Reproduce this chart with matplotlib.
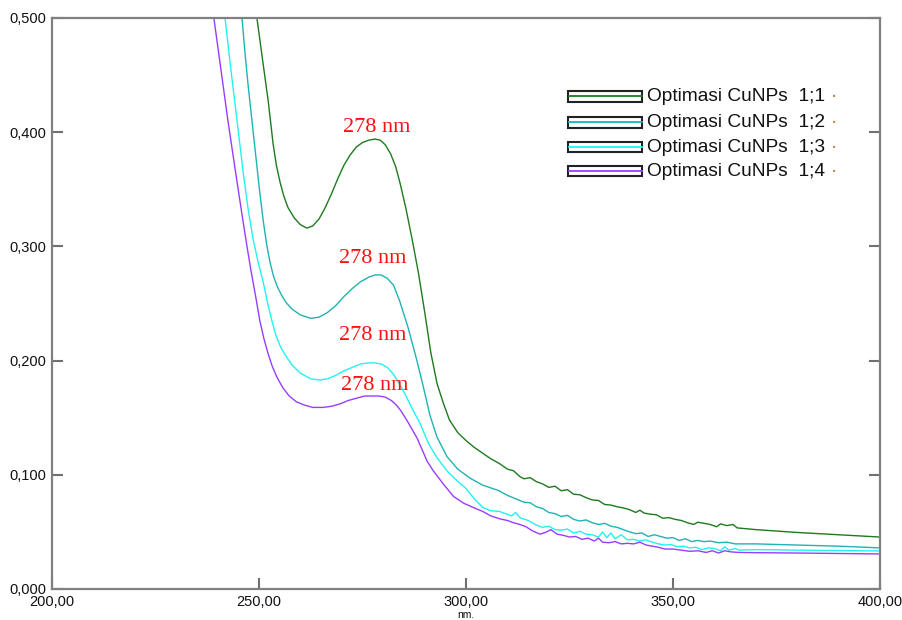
import matplotlib
matplotlib.use("Agg")
import matplotlib.pyplot as plt
from matplotlib.patches import Rectangle

# wavelength (nm) / absorbance
wl_11 = [248.8, 249.5, 250.8, 252.2, 253.4, 254.2, 255.1, 256, 257, 258.5, 260, 261.6, 263, 264.5, 266, 267.5,
         269, 270.5, 272, 273.5, 275, 276.5, 278, 279.3, 280.5, 281.8, 283, 284.1, 285.5, 287, 288.5, 290,
         291.5, 293, 294.5, 296, 298, 300, 302, 304, 306, 308, 310,
         311.5, 313, 314, 315.5, 317, 318.5, 320, 321.5, 323, 324.5, 326, 327.5, 329, 330.5, 332, 333.5, 335,
         336.5, 338, 339.5, 341, 342, 343, 344.5, 346, 347.5, 349, 350.5, 352, 353.5, 355, 356, 357.5, 359,
         360.5, 361.5, 363, 364.5, 365.5, 370, 380, 390, 400]
abs_11 = [0.53, 0.5, 0.465, 0.428, 0.39, 0.371, 0.356, 0.344, 0.334, 0.325, 0.319, 0.316, 0.318, 0.324, 0.334,
          0.346, 0.359, 0.371, 0.380, 0.387, 0.391, 0.393, 0.394, 0.393, 0.389, 0.381, 0.370, 0.355, 0.333,
          0.306, 0.277, 0.243, 0.207, 0.180, 0.163, 0.148,
          0.137, 0.130, 0.124, 0.119, 0.114, 0.110, 0.105, 0.1035, 0.0985, 0.0965, 0.0975, 0.094, 0.092, 0.089,
          0.090, 0.086, 0.087, 0.083, 0.0825, 0.080, 0.078, 0.0775, 0.074, 0.0735, 0.072, 0.071, 0.0695, 0.067,
          0.069, 0.0665, 0.0655, 0.065, 0.062, 0.0625, 0.061, 0.060, 0.058, 0.0565, 0.0585, 0.0575, 0.0565,
          0.0545, 0.057, 0.0555, 0.0565, 0.0535, 0.052, 0.0495, 0.0475, 0.0455]

wl_12 = [245.2, 245.9, 246.6, 247.4, 248.3, 249.2, 250.1, 251, 251.8, 252.6, 253.5, 254.5, 255.5, 256.5, 258,
         260, 262.5, 264.5, 266.5, 268.5, 270.5, 272.5, 274.5, 276.5, 278, 279.5, 281, 282.5, 284, 286, 288,
         289.5, 291.3, 293, 295.4, 298, 301, 304, 306, 308, 310, 312,
         314, 315.5, 317, 318.5, 320, 321.5, 323, 324.5, 326, 327.5, 329, 330.5, 332, 333.5, 335, 336.5, 338,
         339.5, 341, 342.5, 344, 345.5, 347, 348.5, 350, 351.5, 353, 354.5, 356, 357.5, 359, 361, 363, 365,
         370, 380, 390, 400]
abs_12 = [0.53, 0.5, 0.47, 0.44, 0.41, 0.38, 0.35, 0.323, 0.303, 0.287, 0.274, 0.264, 0.257, 0.251, 0.245,
          0.240, 0.237, 0.238, 0.242, 0.248, 0.256, 0.263, 0.269, 0.273, 0.275, 0.275, 0.272, 0.266, 0.252,
          0.229, 0.202, 0.180, 0.152, 0.133,
          0.116, 0.105, 0.097, 0.091, 0.0885, 0.086, 0.082, 0.079, 0.076, 0.0755, 0.072, 0.0705, 0.067, 0.066,
          0.0635, 0.0645, 0.061, 0.0595, 0.0605, 0.058, 0.0565, 0.0575, 0.055, 0.054, 0.052, 0.050, 0.0485,
          0.049, 0.046, 0.0475, 0.046, 0.0445, 0.045, 0.0425, 0.044, 0.0415, 0.0425, 0.0415, 0.042, 0.0405,
          0.041, 0.0395, 0.0395, 0.0385, 0.0375, 0.036]

wl_13 = [241.2, 241.8, 243.2, 244.7, 246.1, 247.4, 248.6, 249.8, 251, 252.1, 253.1, 254.1, 255.2, 256.5, 258,
         260, 262.5, 264.7, 266.5, 268.5, 270.5, 272.5, 274.5, 276.5, 278, 279.5, 281, 282.5, 284.8, 287,
         288.9, 291, 293, 295.5, 297.8, 300, 302, 304, 306, 308,
         309.5, 311, 312, 313, 315, 317, 318.5, 320, 321.5, 323, 324.5, 326, 327.5, 329, 330.5, 332, 333, 334,
         335, 336, 337.5, 339, 340.5, 342, 343.5, 345, 346.5, 348, 349.5, 351, 352.5, 354, 355.5, 357, 358.5,
         360, 361.5, 362.5, 363.5, 365, 366, 370, 380, 390, 400]
abs_13 = [0.52, 0.5, 0.455, 0.41, 0.367, 0.332, 0.306, 0.286, 0.269, 0.250, 0.235, 0.222, 0.212, 0.204, 0.196,
          0.189, 0.184, 0.183, 0.184, 0.187, 0.191, 0.194, 0.197, 0.198, 0.198, 0.197, 0.194, 0.188, 0.174,
          0.158, 0.145, 0.127, 0.115, 0.103, 0.095,
          0.088, 0.079, 0.0715, 0.0685, 0.068, 0.066, 0.064, 0.067, 0.0625, 0.060, 0.056, 0.054, 0.055, 0.052,
          0.0515, 0.0525, 0.049, 0.0505, 0.048, 0.0475, 0.0455, 0.050, 0.045, 0.049, 0.044, 0.0475, 0.043,
          0.0435, 0.042, 0.043, 0.041, 0.0395, 0.0385, 0.039, 0.037, 0.0375, 0.036, 0.0365, 0.0345, 0.036,
          0.0355, 0.0335, 0.037, 0.034, 0.0355, 0.034, 0.0345, 0.034, 0.0337, 0.0333]

wl_14 = [238.5, 239.1, 240.8, 242.5, 244.3, 246.1, 247.1, 248.1, 249.2, 250.2, 251.2, 252.2, 253.2, 254.4,
         255.8, 257.3, 259, 261, 263, 265.5, 267.5, 269.5, 271.5, 273.5, 275.5, 277.5, 279, 280.5, 282,
         283.2, 284.3, 286, 288.2, 290.6, 292, 294.5, 297, 299.5, 302, 304,
         306, 308.2, 310, 311.5, 313, 314.5, 316, 317.9, 319.5, 320.5, 322, 323.5, 325, 326.5, 328, 329.5, 331,
         332, 333, 334.5, 336, 337.5, 339, 340.5, 342, 343.5, 345, 346.5, 348, 350, 352, 354, 356, 358, 359.5,
         361, 362.5, 364, 366, 370, 380, 390, 400]
abs_14 = [0.52, 0.5, 0.455, 0.41, 0.366, 0.323, 0.300, 0.278, 0.256, 0.235, 0.219, 0.206, 0.195, 0.185,
          0.176, 0.169, 0.164, 0.161, 0.159, 0.159, 0.160, 0.162, 0.165, 0.167, 0.169, 0.169, 0.169, 0.168,
          0.165, 0.161, 0.156, 0.146, 0.132, 0.112, 0.104, 0.092,
          0.081, 0.075, 0.071, 0.068, 0.064, 0.0614, 0.060, 0.058, 0.0565, 0.0545, 0.051, 0.048, 0.050, 0.052,
          0.048, 0.047, 0.0455, 0.046, 0.0435, 0.0445, 0.042, 0.0445, 0.041, 0.0405, 0.0415, 0.0395, 0.040,
          0.0395, 0.041, 0.0385, 0.0375, 0.0365, 0.035, 0.035, 0.034, 0.033, 0.0335, 0.032, 0.0335, 0.0315,
          0.0335, 0.0325, 0.032, 0.0318, 0.0315, 0.0311, 0.0307]

series_names = ["Optimasi CuNPs  1;1", "Optimasi CuNPs  1;2", "Optimasi CuNPs  1;3", "Optimasi CuNPs  1;4"]
series_colors = ["#1e7a1e", "#1fb3b3", "#22f2f2", "#9a3cff"]

peak_wl = [278.5, 277.5, 277.5, 278]
label_y = [0.404, 0.289, 0.222, 0.178]

xticks = [200, 250, 300, 350, 400]
xtick_labels = ["200,00", "250,00", "300,00", "350,00", "400,00"]
yticks = [0.0, 0.1, 0.2, 0.3, 0.4, 0.5]
ytick_labels = ["0,000", "0,100", "0,200", "0,300", "0,400", "0,500"]

fig = plt.figure(figsize=(9.02, 6.2), dpi=100)
ax = fig.add_axes([52 / 902, 1 - 589 / 620, 828 / 902, 571 / 620])

all_wl = [wl_11, wl_12, wl_13, wl_14]
all_abs = [abs_11, abs_12, abs_13, abs_14]
for wl, ab, col in zip(all_wl, all_abs, series_colors):
    ax.plot(wl, ab, color=col, lw=1.0)

for x, y in zip(peak_wl, label_y):
    ax.text(x, y, "278 nm", color="#ff1010", fontsize=16, family="Liberation Serif",
            ha="center", va="center")

ax.set_xlim(200, 400)
ax.set_ylim(0, 0.5)
ax.set_xticks(xticks)
ax.set_xticklabels(xtick_labels, family="Liberation Sans", fontsize=10.5, color="#111111")
ax.set_yticks(yticks)
ax.set_yticklabels(ytick_labels, family="Liberation Sans", fontsize=10.5, color="#111111")
ax.tick_params(axis="x", direction="in", length=8, width=1.5, color="#707070", pad=4)
ax.tick_params(axis="y", direction="in", length=8, width=1.5, color="#707070", pad=4,
               right=True)
for sp in ax.spines.values():
    sp.set_color("#808080")
    sp.set_linewidth(1.6)

fig.text(466 / 902, 1 - 615 / 620, "nm.", ha="center", va="center",
         family="Liberation Sans", fontsize=7.5, color="#111111")

# boxed legend drawn by hand
rows_y = [0.863, 0.8175, 0.774, 0.732]
for name, col, ry in zip(series_names, series_colors, rows_y):
    ax.add_patch(Rectangle((0.623, ry - 0.0095), 0.0895, 0.019, transform=ax.transAxes,
                           facecolor="white", edgecolor="#222222", lw=1.5, zorder=5))
    ax.plot([0.624, 0.712], [ry, ry], transform=ax.transAxes, color=col, lw=1.3, zorder=6)
    ax.text(0.718, ry, name, transform=ax.transAxes, ha="left", va="center",
            family="Liberation Sans", fontsize=13.8, color="#111111", zorder=6)
    ax.text(0.945, ry - 0.002, "·", transform=ax.transAxes, ha="center", va="center",
            fontsize=14, color="#d08040", zorder=6)

fig.savefig("out.png", dpi=100)
